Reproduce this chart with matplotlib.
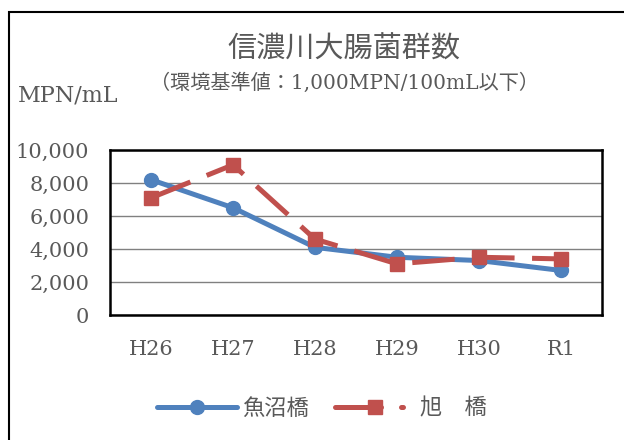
import matplotlib
matplotlib.use("Agg")
import matplotlib.pyplot as plt
from matplotlib.lines import Line2D
from matplotlib.patches import Rectangle

categories = ["H26", "H27", "H28", "H29", "H30", "R1"]
uonuma = [8200, 6500, 4100, 3500, 3300, 2700]
asahi = [7100, 9100, 4600, 3100, 3500, 3400]
yticks = [0, 2000, 4000, 6000, 8000, 10000]
ytick_labels = ["0", "2,000", "4,000", "6,000", "8,000", "10,000"]
series_names = ["魚沼橋", "旭　橋"]

BLUE = "#4F81BD"
RED = "#C0504D"
GRAY = "#595959"
SERIF = ["DejaVu Serif", "Noto Sans CJK JP"]
CJK = ["Noto Sans CJK JP", "DejaVu Sans"]

W, H = 624, 440
fig = plt.figure(figsize=(W / 100, H / 100), dpi=100)

def px(x, y):
    return x / W, 1 - y / H

# outer border
fig.patches.append(Rectangle(px(9, 460), (640 - 9) / W, (460 - 12) / H,
                             transform=fig.transFigure, fill=False,
                             edgecolor="black", linewidth=1.5, clip_on=False))

l, b = px(110, 315)
r, t = px(602, 150)
ax = fig.add_axes([l, b, r - l, t - b])

x = list(range(len(categories)))
lw = 5 * 72 / 100
ax.plot(x, uonuma, color=BLUE, linewidth=lw, marker="o", markersize=10,
        solid_capstyle="round", zorder=3)
ax.plot(x, asahi, color=RED, linewidth=lw, marker="s", markersize=10,
        linestyle=(0, (8.5, 3.5)), dash_capstyle="butt", zorder=4)

ax.set_xlim(-0.5, len(categories) - 0.5)
ax.set_ylim(0, 10000)
ax.set_yticks(yticks)
ax.set_yticklabels(ytick_labels)
ax.set_xticks(x)
ax.set_xticklabels(categories)
ax.tick_params(length=0, pad=15, labelcolor=GRAY, labelsize=15)
ax.tick_params(axis="x", pad=18)
for lab in ax.get_xticklabels() + ax.get_yticklabels():
    lab.set_family(SERIF)
ax.grid(axis="y", color="#808080", linewidth=1)
ax.set_axisbelow(True)
for s in ax.spines.values():
    s.set_linewidth(1.8)
    s.set_color("black")

# titles
fig.text(*px(344, 50), "信濃川大腸菌群数", ha="center", va="center",
         fontsize=21, color=GRAY, family=CJK)
fig.text(*px(344, 83), "（環境基準値：1,000MPN/100mL以下）", ha="center",
         va="center", fontsize=14.5, color=GRAY, family=SERIF)
fig.text(*px(18, 95), "MPN/mL", ha="left", va="center", fontsize=16,
         color=GRAY, family=SERIF)

# legend
h1 = Line2D([], [], color=BLUE, linewidth=lw, marker="o", markersize=10,
            solid_capstyle="round")
h2 = Line2D([], [], color=RED, linewidth=lw, marker="s", markersize=10,
            linestyle=(0, (9.2, 4, 0.4, 4)), dash_capstyle="round")
leg = fig.legend([h1, h2], series_names, loc="center", ncol=2,
                 bbox_to_anchor=px(322, 408), frameon=False,
                 handlelength=3.6, handletextpad=0.2, columnspacing=1.2,
                 prop={"family": CJK, "size": 16})
for tx in leg.get_texts():
    tx.set_color(GRAY)

fig.savefig("out.png", dpi=100)
